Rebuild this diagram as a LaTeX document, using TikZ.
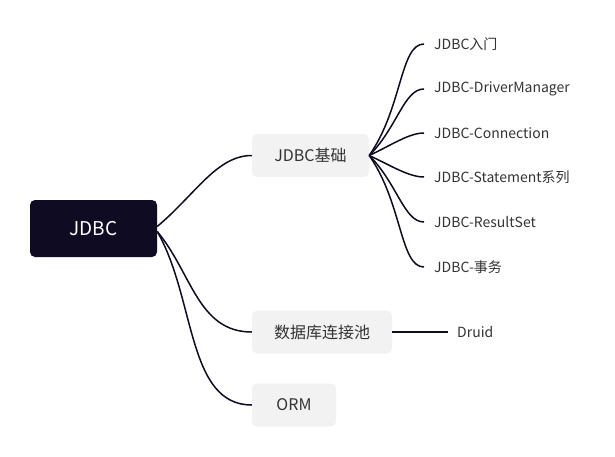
\documentclass[tikz,border=0pt]{standalone}
\usepackage{fontspec}
\setmainfont{Noto Sans CJK SC}
\definecolor{rootcol}{HTML}{0E0B22}
\definecolor{topiccol}{HTML}{F2F2F2}
\definecolor{textcol}{HTML}{333333}
\begin{document}
\begin{tikzpicture}[x=1pt,y=-1pt,
  root/.style={fill=rootcol, text=white, rounded corners=5pt, minimum width=127pt, minimum height=57pt, font=\fontsize{19}{22}\selectfont},
  topic/.style={fill=topiccol, text=textcol, rounded corners=5pt, minimum height=43pt, font=\fontsize{16}{19}\selectfont},
  leaf/.style={anchor=west, text=textcol, inner xsep=10pt, inner ysep=2pt, font=\fontsize{14}{17}\selectfont},
  link/.style={draw=rootcol, line width=1.5pt, in=180}]
\useasboundingbox (0,0) rectangle (615,457);
\node [root] (j) at (93.5,228.5) {JDBC};
\node [topic, minimum width=117pt] (b) at (310.5,155.5) {JDBC基础};
\node [topic, minimum width=140pt] (p) at (322,332) {数据库连接池};
\node [topic, minimum width=84pt] (o) at (294,405) {ORM};
\node [leaf] (l1) at (424,44) {JDBC入门};
\node [leaf] (l2) at (424,89) {JDBC-DriverManager};
\node [leaf] (l3) at (424,133) {JDBC-Connection};
\node [leaf] (l4) at (424,177) {JDBC-Statement系列};
\node [leaf] (l5) at (424,222) {JDBC-ResultSet};
\node [leaf] (l6) at (424,267) {JDBC-事务};
\node [leaf, inner xsep=9pt] (d) at (448,332) {Druid};
\draw [link] ([yshift=2pt]j.east) to [out=40, out distance=50, in distance=35] (b.west);
\draw [link] ([yshift=-3pt]j.east) to [out=-50, out distance=54, in distance=54] (p.west);
\draw [link] ([yshift=-3pt]j.east) to [out=-60, out distance=77, in distance=65] (o.west);
\draw [link] (b.east) to [out=55, out distance=58, in distance=24] (l1.west);
\draw [link] (b.east) to [out=45, out distance=40, in distance=20] (l2.west);
\draw [link] (b.east) to [out=25, out distance=25, in distance=15] (l3.west);
\draw [link] (b.east) to [out=-25, out distance=25, in distance=15] (l4.west);
\draw [link] (b.east) to [out=-45, out distance=40, in distance=20] (l5.west);
\draw [link] (b.east) to [out=-55, out distance=58, in distance=24] (l6.west);
\draw [link] (p.east) -- (d.west);
\end{tikzpicture}
\end{document}
